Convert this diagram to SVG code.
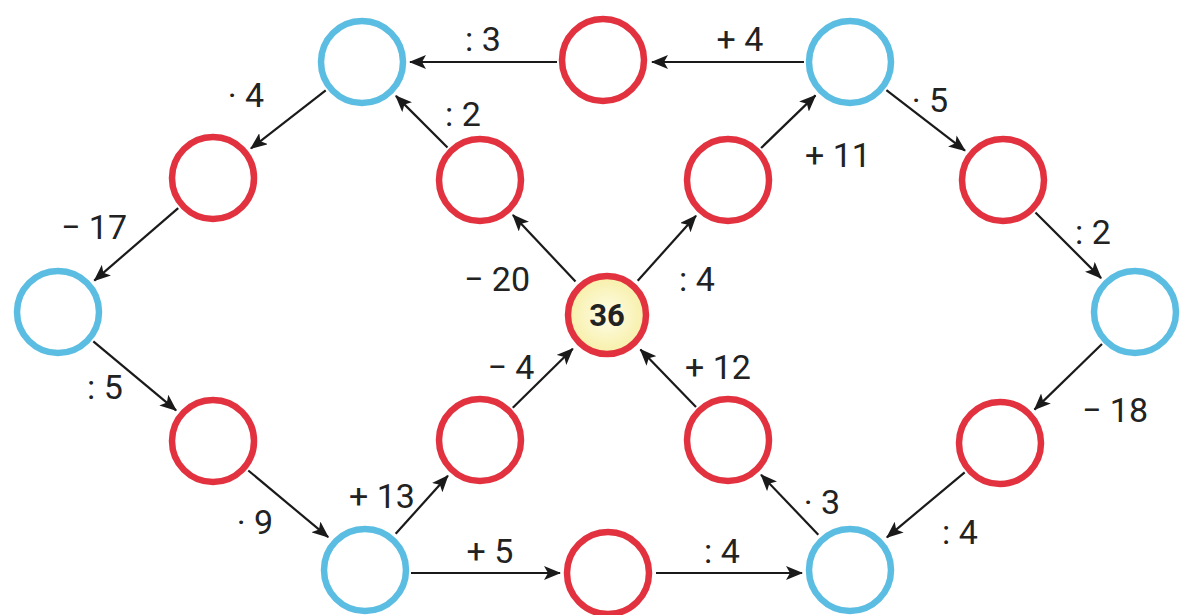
<svg xmlns="http://www.w3.org/2000/svg" width="1180" height="615" viewBox="0 0 1180 615">
<style>
.b{fill:#ffffff;stroke:#5cbde2;stroke-width:6.5}
.r{fill:#ffffff;stroke:#e2323f;stroke-width:6.5}
.e line{stroke:#1a1a1a;stroke-width:2.2;marker-end:url(#ah)}
.l{font-family:Roboto,"Liberation Sans",sans-serif;font-size:34px;fill:#222;text-anchor:middle}
.c{font-family:Roboto,"Liberation Sans",sans-serif;font-size:31px;font-weight:bold;fill:#222;text-anchor:middle}
</style>
<defs>
<marker id="ah" markerUnits="userSpaceOnUse" markerWidth="18" markerHeight="14" refX="16" refY="7" orient="auto">
<path d="M0,0 L17,7 L0,14 L4,7 Z" fill="#1a1a1a"/>
</marker>
<radialGradient id="yg" cx="0.5" cy="0.5" r="0.5">
<stop offset="0" stop-color="#fffde8"/>
<stop offset="1" stop-color="#f7efa8"/>
</radialGradient>
</defs>
<rect width="1180" height="615" fill="#ffffff"/>
<g id="connectors" class="e">
<line x1="557" y1="62" x2="410" y2="62"/>
<line x1="804" y1="62" x2="652" y2="62"/>
<line x1="325.7" y1="90.3" x2="250.9" y2="148.5"/>
<line x1="447.5" y1="147.5" x2="395.9" y2="95.9"/>
<line x1="178.2" y1="208.1" x2="94.3" y2="280.6"/>
<line x1="575.5" y1="281.5" x2="512.9" y2="215"/>
<line x1="637.7" y1="280.7" x2="696" y2="215.8"/>
<line x1="761.1" y1="148" x2="815.5" y2="95.4"/>
<line x1="886.4" y1="90.1" x2="965" y2="150.7"/>
<line x1="1035.5" y1="212.5" x2="1101.1" y2="278.1"/>
<line x1="93.3" y1="341.4" x2="176.1" y2="410.3"/>
<line x1="1102" y1="344" x2="1034.5" y2="409.6"/>
<line x1="248.3" y1="470.5" x2="328.2" y2="537.2"/>
<line x1="395.7" y1="533.8" x2="447.9" y2="475.7"/>
<line x1="512.8" y1="407.7" x2="572.8" y2="348.7"/>
<line x1="696" y1="407" x2="640.4" y2="349.5"/>
<line x1="818.3" y1="534.7" x2="761.1" y2="474.8"/>
<line x1="964.7" y1="472.4" x2="886.9" y2="537.3"/>
<line x1="411" y1="573" x2="560" y2="573"/>
<line x1="656" y1="573" x2="802" y2="573"/>
</g>
<g id="labels">
<text class="l" x="483" y="51">: 3</text>
<text class="l" x="740" y="51">+ 4</text>
<text class="l" x="246" y="107">· 4</text>
<text class="l" x="463" y="126">: 2</text>
<text class="l" x="94" y="239">− 17</text>
<text class="l" x="497" y="291">− 20</text>
<text class="l" x="697" y="291">: 4</text>
<text class="l" x="838" y="167">+ 11</text>
<text class="l" x="930" y="112">· 5</text>
<text class="l" x="1093" y="244">: 2</text>
<text class="l" x="105" y="399">: 5</text>
<text class="l" x="1115" y="422">− 18</text>
<text class="l" x="255" y="534">· 9</text>
<text class="l" x="382" y="508">+ 13</text>
<text class="l" x="511" y="379">− 4</text>
<text class="l" x="718" y="379">+ 12</text>
<text class="l" x="822" y="514">· 3</text>
<text class="l" x="960" y="544">: 4</text>
<text class="l" x="490" y="563">+ 5</text>
<text class="l" x="722" y="563">: 4</text>
</g>
<g id="n-tl"><circle class="b" cx="362" cy="62" r="41"/></g>
<g id="n-tm"><circle class="r" cx="603" cy="60" r="41"/></g>
<g id="n-tr"><circle class="b" cx="850" cy="62" r="41"/></g>
<g id="n-r1"><circle class="r" cx="213" cy="178" r="41"/></g>
<g id="n-r2"><circle class="r" cx="480" cy="180" r="41"/></g>
<g id="n-r3"><circle class="r" cx="728" cy="180" r="41"/></g>
<g id="n-r4"><circle class="r" cx="1003" cy="180" r="41"/></g>
<g id="n-l"><circle class="b" cx="58" cy="312" r="41"/></g>
<g id="n-c"><circle class="r" cx="607" cy="315" r="39" style="fill:url(#yg)"/><text class="c" x="607" y="326">36</text></g>
<g id="n-rb"><circle class="b" cx="1135" cy="312" r="41"/></g>
<g id="n-r5"><circle class="r" cx="213" cy="441" r="41"/></g>
<g id="n-r6"><circle class="r" cx="480" cy="440" r="41"/></g>
<g id="n-r7"><circle class="r" cx="728" cy="440" r="41"/></g>
<g id="n-r8"><circle class="r" cx="1000" cy="443" r="41"/></g>
<g id="n-bl"><circle class="b" cx="365" cy="570" r="41"/></g>
<g id="n-bm"><circle class="r" cx="608" cy="573" r="41"/></g>
<g id="n-br"><circle class="b" cx="850" cy="570" r="41"/></g>
</svg>
